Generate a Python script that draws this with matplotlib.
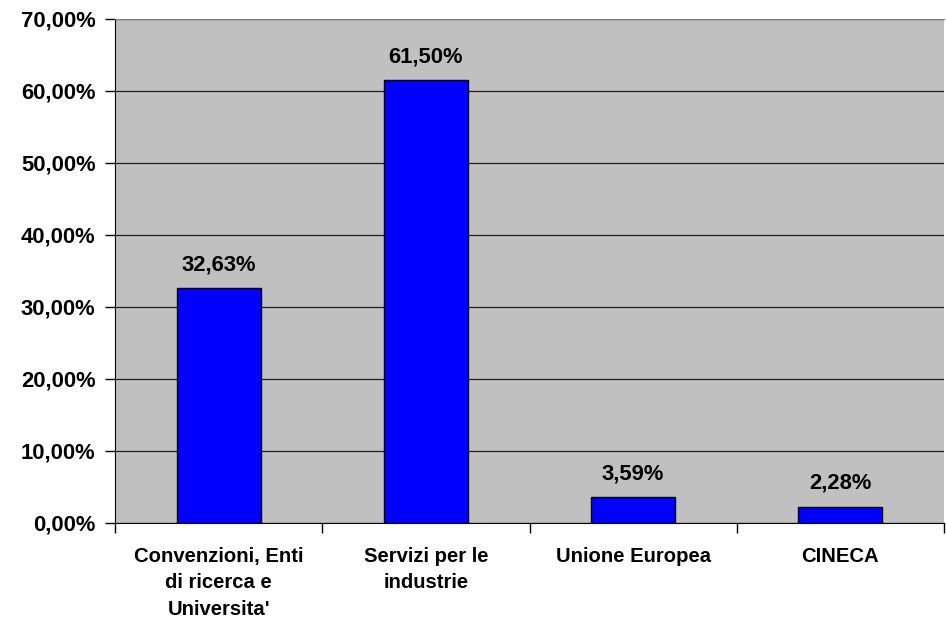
import matplotlib
matplotlib.use("Agg")
import matplotlib.pyplot as plt
from matplotlib.ticker import FuncFormatter, FixedLocator, NullFormatter

categories = ["Convenzioni, Enti\ndi ricerca e\nUniversita'", "Servizi per le\nindustrie",
              "Unione Europea", "CINECA"]
values = [32.63, 61.50, 3.59, 2.28]
value_labels = ["32,63%", "61,50%", "3,59%", "2,28%"]

plt.rcParams["font.family"] = ["Liberation Sans", "DejaVu Sans"]
plt.rcParams["font.weight"] = "bold"

fig = plt.figure(figsize=(9.46, 6.27), dpi=100)
ax = fig.add_axes([115 / 946, 1 - 523 / 627, 829 / 946, 504 / 627])
ax.set_facecolor("#C0C0C0")

x = list(range(len(categories)))
ax.bar(x, values, width=0.405, color="#0000FF", edgecolor="black", linewidth=1.0, zorder=3)

for xi, v, lab in zip(x, values, value_labels):
    ax.text(xi, v + 1.8, lab, ha="center", va="bottom", fontsize=15.8, fontweight="bold", zorder=4)

ax.set_xlim(-0.5, len(categories) - 0.5)
ax.set_ylim(0, 70)
ax.set_yticks(range(0, 71, 10))
ax.yaxis.set_major_formatter(FuncFormatter(lambda v, p: f"{v:.2f}%".replace(".", ",")))
ax.grid(axis="y", color="#202020", linewidth=0.9, zorder=1)

# category labels centered, tick marks at boundaries
ax.set_xticks(x)
ax.set_xticklabels(categories, fontsize=14.6, fontweight="bold", linespacing=1.5)
ax.tick_params(axis="x", length=0, pad=17)
ax.xaxis.set_minor_locator(FixedLocator([-0.5, 0.5, 1.5, 2.5, 3.5]))
ax.xaxis.set_minor_formatter(NullFormatter())
ax.tick_params(axis="x", which="minor", length=7, width=1, color="black", direction="out")
ax.tick_params(axis="y", length=7, width=1, direction="out", labelsize=15.8, pad=7)

ax.spines["top"].set_color("#808080")
ax.spines["right"].set_visible(False)
ax.spines["left"].set_color("black")
ax.spines["bottom"].set_color("black")

fig.savefig("out.png", dpi=100)
